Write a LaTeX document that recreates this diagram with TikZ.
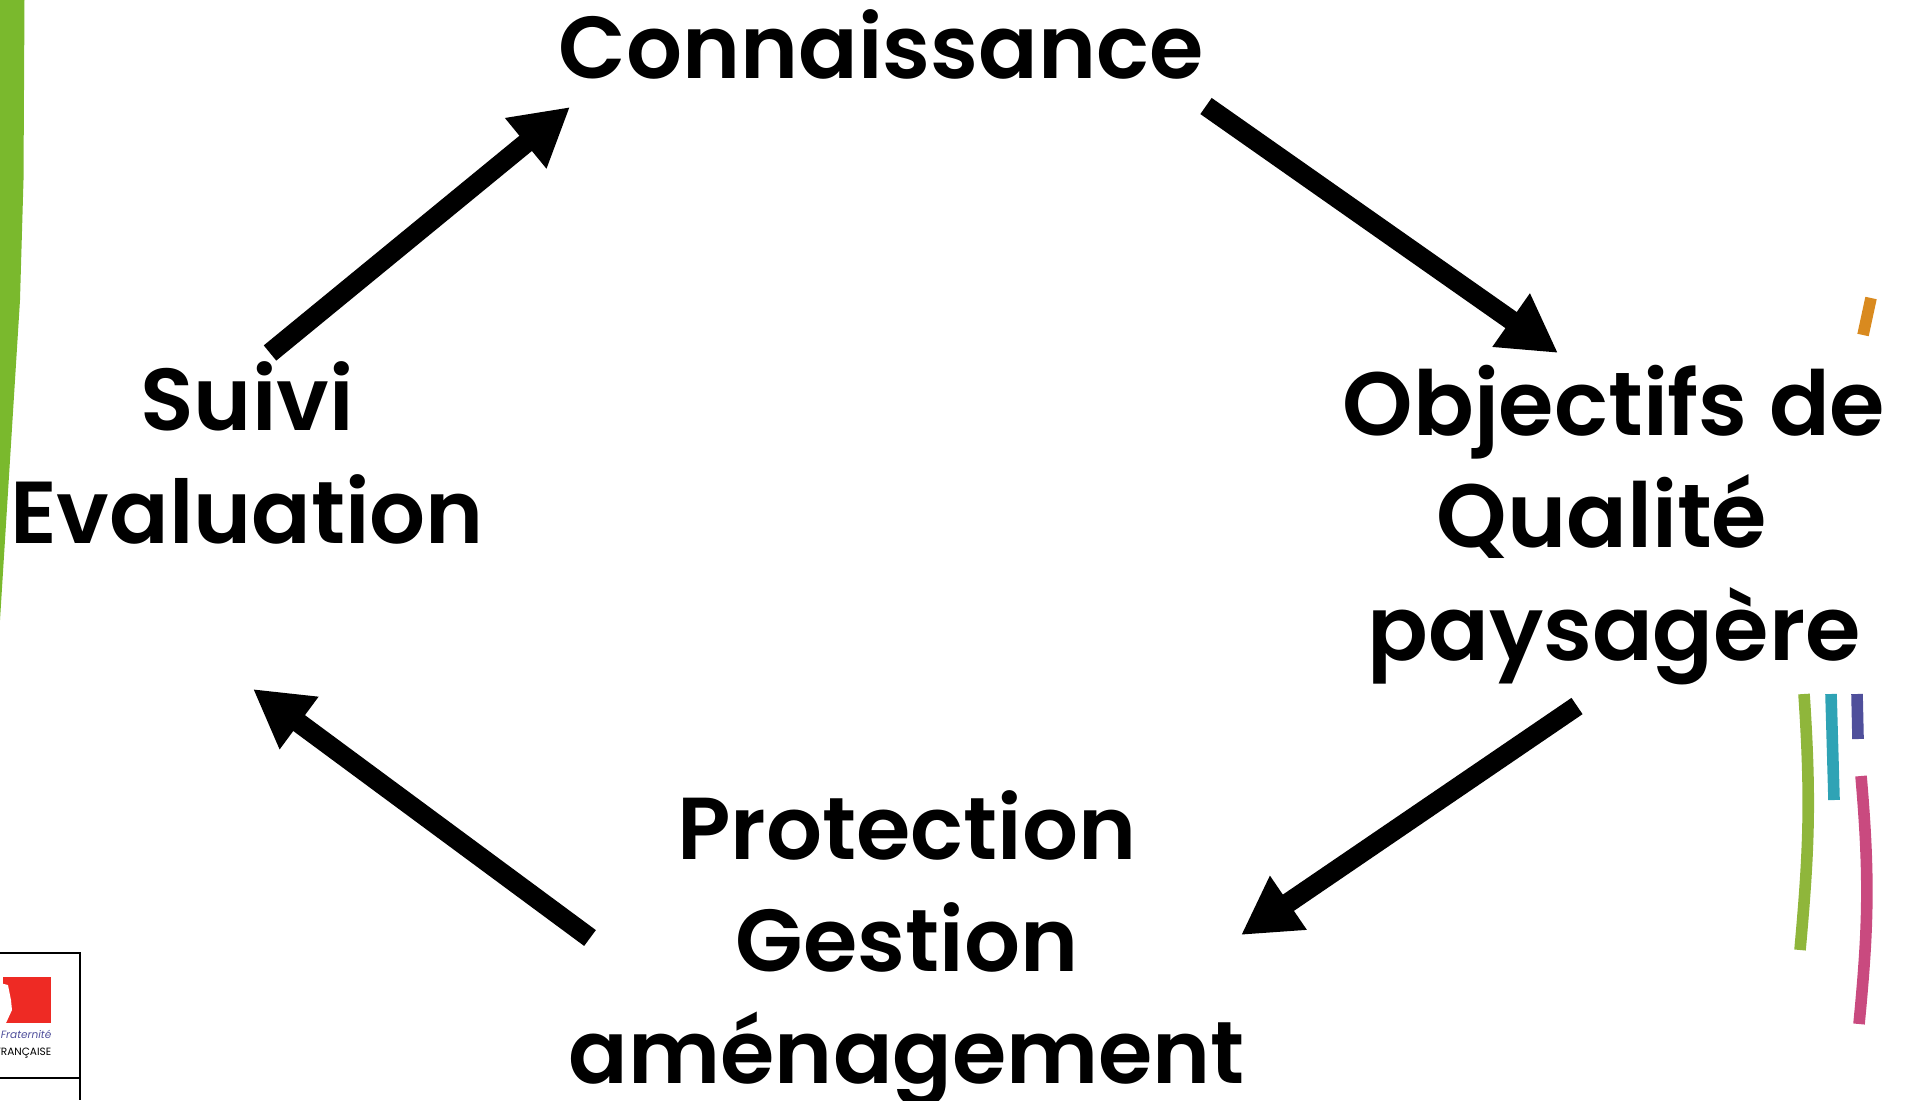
\documentclass[tikz,border=0pt]{standalone}
\usepackage{fontspec}
\setmainfont{Poppins}[BoldFont={Poppins SemiBold}]
\usepackage{tikz}
\usetikzlibrary{arrows.meta}
\definecolor{bande}{HTML}{7AB92D}
\definecolor{traitorange}{HTML}{D98A1F}
\definecolor{traitvert}{HTML}{8FB63B}
\definecolor{traitbleu}{HTML}{2FA3B5}
\definecolor{traitviolet}{HTML}{4F4F9B}
\definecolor{traitrose}{HTML}{C94A7F}
\definecolor{rouge}{HTML}{EE2A24}
\tikzset{
    etape/.style={align=center, inner sep=0pt, font=\fontsize{25}{31.9}\selectfont\bfseries},
    fleche/.style={line width=5.6pt, -{Triangle[length=16.3pt,width=17.4pt]}},
    trait/.style={line width=3.3pt},
    logo/.style={inner sep=0pt, anchor=east, font=\fontsize{3}{3}\selectfont}
}
\begin{document}
\begin{tikzpicture}[x=0.01cm, y=-0.01cm]
    \useasboundingbox (0,0) rectangle (1910,1100);
    \fill[bande] (0,0) -- (24.5,0) -- (23.5,180) -- (20,300) -- (0,620) -- cycle;
    \draw[trait, traitorange] (1871,298) -- (1863,335);
    \draw[trait, traitvert] (1804,694) .. controls (1811,800) and (1809,850) .. (1800,950);
    \draw[trait, traitbleu] (1831,694) -- (1834,800);
    \draw[trait, traitviolet] (1857,694) -- (1858,739);
    \draw[trait, traitrose] (1861,776) .. controls (1870,880) and (1868,930) .. (1859,1024);
    \draw[line width=0.5pt] (0,953) -- (80,953) -- (80,1100);
    \draw[line width=0.5pt] (0,1078) -- (80,1078);
    \fill[rouge] (3,977) rectangle (51,1023);
    \fill[white] (0,983) -- (8,985) -- (11,1000) -- (12,1010) -- (6,1023) -- (0,1023) -- cycle;
    \node[logo, traitviolet] (devise) at (52,1034) {\itshape Fraternité};
    \node[logo] (rf) at (52,1053) {FRANÇAISE};
    \node[etape] (conn) at (881,44) {Connaissance};
    \node[etape] (suivi) at (247,453) {Suivi\\Evaluation};
    \node[etape, font=\fontsize{25.5}{31.9}\selectfont\bfseries] (objectifs) at (1614,525) {Objectifs de\\Qualité\rule{6.9pt}{0pt}\\paysagère};
    \node[etape] (protection) at (907,949) {Protection\\Gestion\\aménagement};
    \draw[fleche] ([shift={(23,-100)}]suivi.center) -- ([shift={(-311,63)}]conn.center);
    \draw[fleche] ([shift={(325,62)}]conn.center) -- ([shift={(-56,-172)}]objectifs.center);
    \draw[fleche] ([shift={(-37,181)}]objectifs.center) -- ([shift={(334,-14)}]protection.center);
    \draw[fleche] ([shift={(-317,-11)}]protection.center) -- ([shift={(6,236)}]suivi.center);
\end{tikzpicture}
\end{document}
